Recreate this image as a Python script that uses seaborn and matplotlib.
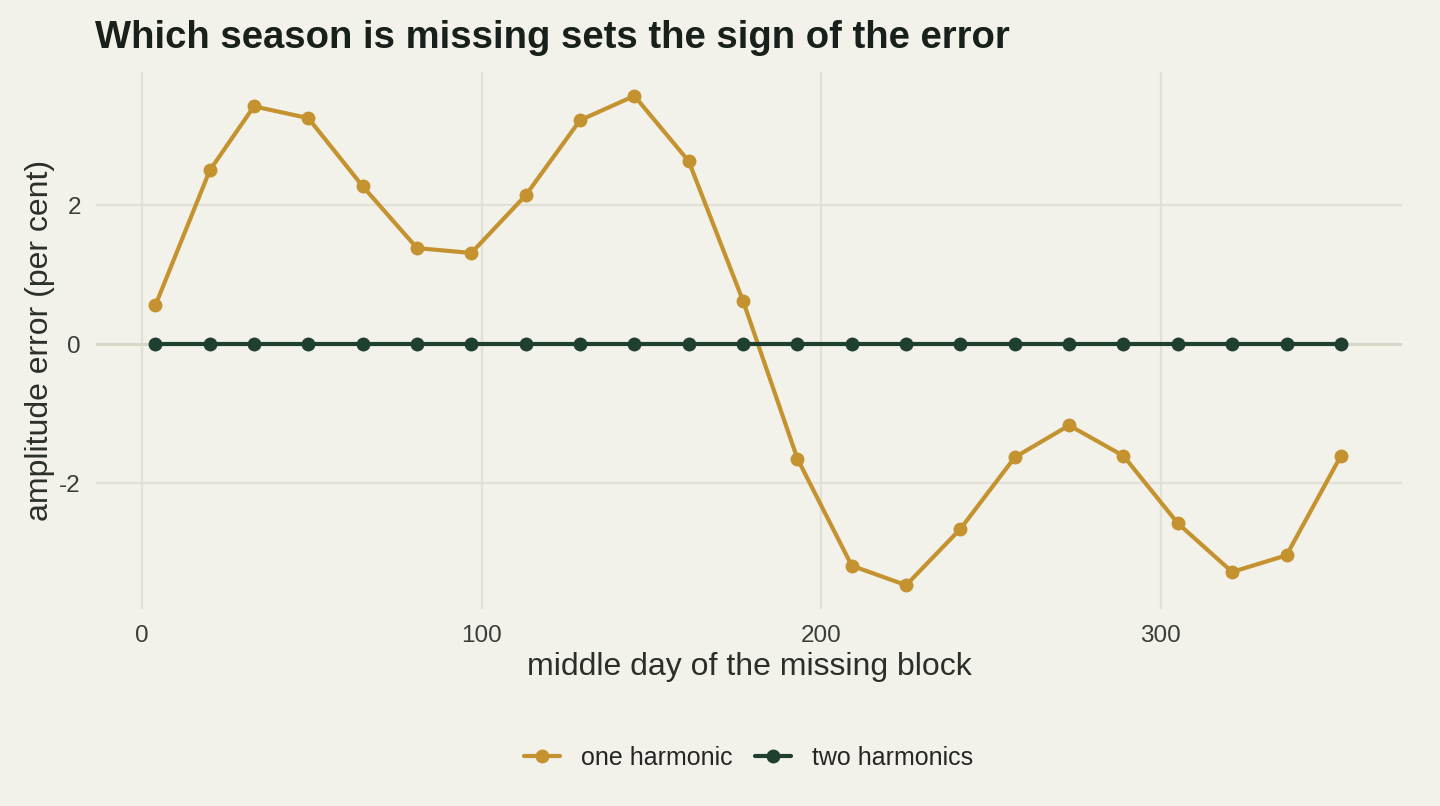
import pandas as pd
import matplotlib.pyplot as plt
import seaborn as sns

# middle day of each missing block
days = [4, 20, 33, 49, 65, 81, 97, 113, 129, 145, 161, 177,
        193, 209, 225, 241, 257, 273, 289, 305, 321, 337, 353]
# amplitude error (per cent)
one_harm = [0.56, 2.50, 3.42, 3.25, 2.27, 1.38, 1.31, 2.14, 3.22, 3.57, 2.63, 0.62,
            -1.65, -3.19, -3.47, -2.66, -1.63, -1.17, -1.61, -2.58, -3.28, -3.04, -1.61]
two_harm = [0.0] * len(days)
series = ["one harmonic", "two harmonics"]

df = pd.DataFrame({
    "day": days * 2,
    "err": one_harm + two_harm,
    "model": [series[0]] * len(days) + [series[1]] * len(days),
})

bg = "#F2F1EA"
sns.set_theme(style="whitegrid", rc={
    "axes.facecolor": bg, "figure.facecolor": bg,
    "grid.color": "#E2E1D6", "grid.linewidth": 1.6,
    "axes.edgecolor": bg,
})
plt.rcParams["font.family"] = ["Liberation Sans", "DejaVu Sans"]
plt.rcParams["axes.unicode_minus"] = False

fig = plt.figure(figsize=(14.4, 8.06), dpi=100)
ax = fig.add_axes([0.0667, 0.2438, 0.9069, 0.6674])

ax.axhline(0, color="#D6D5C6", lw=2, zorder=1)
sns.lineplot(data=df, x="day", y="err", hue="model", marker="o",
             palette=["#C4922F", "#1F4030"], linewidth=3, markersize=10,
             markeredgewidth=0, ax=ax, zorder=3)

ax.set_xlim(-13.5, 371)
ax.set_ylim(-3.82, 3.92)
ax.set_xticks([0, 100, 200, 300])
ax.set_yticks([-2, 0, 2])
ax.tick_params(axis="both", labelsize=17.5, labelcolor="#3A3D38", length=0, pad=11)
ax.set_xlabel("middle day of the missing block", fontsize=23, color="#2B2F2A", labelpad=4)
ax.set_ylabel("amplitude error (per cent)", fontsize=23, color="#2B2F2A", labelpad=3)
for s in ax.spines.values():
    s.set_visible(False)

fig.text(0.066, 0.953, "Which season is missing sets the sign of the error",
         fontsize=27.5, fontweight="bold", color="#17201A", va="center")

handles, labels = ax.get_legend_handles_labels()
ax.get_legend().remove()
fig.legend(handles, labels, loc="center", bbox_to_anchor=(0.52, 0.06), ncol=2,
           frameon=False, fontsize=18, handlelength=1.45, handletextpad=0.84,
           columnspacing=0.88)

fig.savefig("out.png", dpi=100, facecolor=bg)
